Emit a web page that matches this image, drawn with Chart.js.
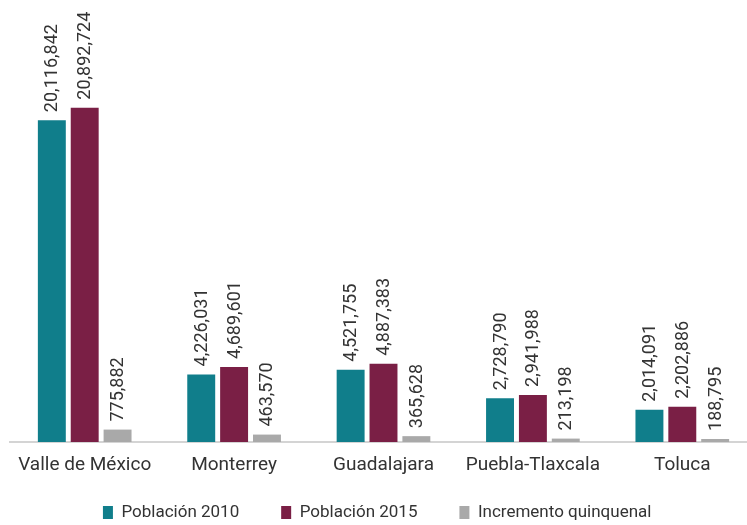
<!DOCTYPE html>
<html>
<head>
<meta charset="utf-8">
<script src="https://cdn.jsdelivr.net/npm/chart.js@4/dist/chart.umd.min.js"></script>
<style>
    html, body { margin: 0; padding: 0; background: #fff; overflow: hidden; }
    #wrap { position: relative; width: 760px; height: 525px; }
</style>
</head>
<body>
<div id="wrap"><canvas id="chart"></canvas></div>
<script>
// Categories and series
const categories = ['Valle de México', 'Monterrey', 'Guadalajara', 'Puebla-Tlaxcala', 'Toluca'];
const poblacion2010 = [20116842, 4226031, 4521755, 2728790, 2014091];
const poblacion2015 = [20892724, 4689601, 4887383, 2941988, 2202886];
const incremento = [775882, 463570, 365628, 213198, 188795];
const seriesNames = ['Población 2010', 'Población 2015', 'Incremento quinquenal'];
const seriesColors = ['#107e8b', '#7a1f45', '#a9a9a9'];

const fontFamily = 'Roboto, "Noto Sans", sans-serif';
const textColor = '#333333';
const fmt = (v) => new Intl.NumberFormat('en-US').format(v);

// Draw the rotated value labels above every bar
const valueLabels = {
    id: 'valueLabels',
    afterDatasetsDraw(chart) {
        const ctx = chart.ctx;
        ctx.save();
        ctx.font = `18px ${fontFamily}`;
        ctx.fillStyle = textColor;
        ctx.textAlign = 'left';
        ctx.textBaseline = 'middle';
        chart.data.datasets.forEach((ds, i) => {
            chart.getDatasetMeta(i).data.forEach((bar, j) => {
                ctx.save();
                ctx.translate(bar.x + 1, bar.y - 8);
                ctx.rotate(-Math.PI / 2);
                ctx.fillText(fmt(ds.data[j]), 0, 0);
                ctx.restore();
            });
        });
        ctx.restore();
    }
};

new Chart(document.getElementById('chart'), {
    type: 'bar',
    data: {
        labels: categories,
        datasets: seriesNames.map((name, i) => ({
            label: name,
            data: [poblacion2010, poblacion2015, incremento][i],
            backgroundColor: seriesColors[i]
        }))
    },
    options: {
        responsive: true,
        maintainAspectRatio: false,
        animation: false,
        datasets: {
            bar: { barPercentage: 0.85, categoryPercentage: 0.66 }
        },
        layout: { padding: { left: 10, right: 3, top: 10, bottom: -6 } },
        scales: {
            x: {
                grid: { display: false, drawTicks: false },
                border: { display: true, color: '#d4d4d4', width: 2 },
                ticks: {
                    color: textColor,
                    font: { family: fontFamily, size: 19 },
                    padding: 12,
                    maxRotation: 0,
                    autoSkip: false
                },
                // leave room between the category labels and the legend
                afterFit: (scale) => { scale.height = 58; }
            },
            y: {
                display: false,
                min: 0,
                max: 27000000
            }
        },
        plugins: {
            legend: {
                position: 'bottom',
                labels: {
                    color: textColor,
                    font: { family: fontFamily, size: 17 },
                    boxWidth: 10,
                    boxHeight: 13,
                    padding: 4,
                    // trailing spaces widen the gap between legend items
                    generateLabels: (chart) => chart.data.datasets.map((ds, i) => ({
                        text: ds.label + (i < 2 ? '         ' : '   '),
                        fillStyle: ds.backgroundColor,
                        strokeStyle: ds.backgroundColor,
                        lineWidth: 0,
                        fontColor: textColor,
                        datasetIndex: i
                    }))
                }
            },
            tooltip: { enabled: false }
        }
    },
    plugins: [valueLabels]
});
</script>
</body>
</html>
